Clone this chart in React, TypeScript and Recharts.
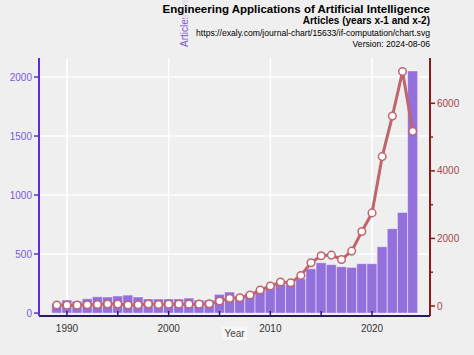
import { ComposedChart, Bar, Line, XAxis, YAxis, CartesianGrid } from 'recharts';

const YEARS = [
  1989, 1990, 1991, 1992, 1993, 1994, 1995, 1996, 1997, 1998, 1999, 2000,
  2001, 2002, 2003, 2004, 2005, 2006, 2007, 2008, 2009, 2010, 2011, 2012,
  2013, 2014, 2015, 2016, 2017, 2018, 2019, 2020, 2021, 2022, 2023, 2024,
];

// articles published (left axis, bars)
const ARTICLES = [
  80, 110, 100, 121, 138, 136, 144, 152, 136, 119, 119, 119,
  119, 127, 110, 110, 158, 178, 144, 165, 195, 223, 243, 243,
  290, 375, 426, 410, 392, 387, 418, 418, 562, 715, 853, 2051,
];

// articles in years x-1 and x-2 (right axis, line)
const CITATIONS = [
  30, 25, 25, 35, 45, 60, 60, 30, 35, 60, 45, 55,
  55, 55, 55, 65, 148, 226, 246, 325, 472, 590, 709, 689,
  905, 1280, 1486, 1506, 1378, 1625, 2206, 2756, 4422, 5622, 6942, 5170,
];

const X_TICKS = [1990, 1995, 2000, 2005, 2010, 2015, 2020];
const X_LABELS = [1990, 2000, 2010, 2020];
const LEFT_TICKS = [0, 500, 1000, 1500, 2000];
const RIGHT_TICKS = [0, 1000, 2000, 3000, 4000, 5000, 6000];
const RIGHT_LABELS = [0, 2000, 4000, 6000];

const FONT = '"Liberation Sans", Arial, sans-serif';
const BG = '#efefef';
const BAR = '#9370db';
const LINE = '#c0646e';
const LEFT_COLOR = '#5b2fd6';
const LEFT_TEXT = '#7b5ad6';
const RIGHT_COLOR = '#8b1a1a';
const RIGHT_TEXT = '#a8444c';

const chartData = YEARS.map((year, i) => ({
  year,
  articles: ARTICLES[i],
  citations: CITATIONS[i],
}));

function YearTick({ x, y, payload }: any) {
  const labelled = X_LABELS.includes(payload.value);
  return (
    <g>
      <line x1={x} x2={x} y1={y} y2={y - 5} stroke="#2a1a60" strokeWidth={1.5} />
      {labelled && (
        <text x={x} y={y + 16} textAnchor="middle" fill="#333" fontSize={10} fontFamily={FONT}>
          {payload.value}
        </text>
      )}
    </g>
  );
}

function RightTick({ x, y, payload }: any) {
  const labelled = RIGHT_LABELS.includes(payload.value);
  return (
    <g>
      <line x1={x} x2={x + (labelled ? 5 : 3)} y1={y} y2={y} stroke={RIGHT_COLOR} strokeWidth={1.5} />
      {labelled && (
        <text x={x + 7} y={y} dy="0.35em" fill={RIGHT_TEXT} fontSize={10} fontFamily={FONT}>
          {payload.value}
        </text>
      )}
    </g>
  );
}

function YearLabel({ viewBox }: any) {
  const cx = viewBox.x + viewBox.width / 2;
  const by = viewBox.y + 21;
  return (
    <g>
      <rect x={cx - 13} y={by - 11} width={26} height={14} fill="#f6f6f6" />
      <text x={cx} y={by} textAnchor="middle" fill="#444" fontSize={10} fontFamily={FONT}>
        Year
      </text>
    </g>
  );
}

export default function App() {
  return (
    <div style={{ position: 'absolute', left: 0, top: 0, width: 474, height: 355, background: BG, fontFamily: FONT }}>
      <ComposedChart
        width={474}
        height={355}
        data={chartData}
        margin={{ top: 58, right: 0, bottom: 0, left: 0 }}
        barCategoryGap={0}
      >
        <CartesianGrid
          yAxisId="left"
          stroke="#ffffff"
          strokeWidth={1.5}
          verticalValues={X_LABELS}
          horizontalValues={LEFT_TICKS.slice(1)}
        />
        <XAxis
          dataKey="year"
          type="number"
          domain={[1987.25, 2025.7]}
          allowDataOverflow
          ticks={X_TICKS}
          interval={0}
          height={39}
          tickSize={0}
          tickMargin={0}
          tick={<YearTick />}
          axisLine={{ stroke: '#2a1a60', strokeWidth: 2 }}
          label={<YearLabel />}
        />
        <YAxis
          yAxisId="left"
          orientation="left"
          width={39}
          domain={[-25, 2161]}
          allowDataOverflow
          ticks={LEFT_TICKS}
          interval={0}
          tickSize={5}
          tickMargin={2}
          tick={{ fill: LEFT_TEXT, fontSize: 10, fontFamily: FONT }}
          tickLine={{ stroke: LEFT_COLOR, strokeWidth: 1.5 }}
          axisLine={{ stroke: LEFT_COLOR, strokeWidth: 2 }}
        />
        <YAxis
          yAxisId="right"
          orientation="right"
          width={44}
          domain={[-296, 7341]}
          allowDataOverflow
          ticks={RIGHT_TICKS}
          interval={0}
          tickSize={0}
          tickMargin={0}
          tick={<RightTick />}
          tickLine={false}
          axisLine={{ stroke: RIGHT_COLOR, strokeWidth: 2 }}
        />
        <Bar
          yAxisId="left"
          dataKey="articles"
          fill={BAR}
          stroke="rgba(255,255,255,0.4)"
          strokeWidth={1}
          isAnimationActive={false}
        />
        <Line
          yAxisId="right"
          dataKey="citations"
          stroke={LINE}
          strokeWidth={3}
          dot={{ r: 3.8, fill: '#ffffff', stroke: LINE, strokeWidth: 1.5 }}
          isAnimationActive={false}
        />
      </ComposedChart>
      <svg
        width={474}
        height={60}
        style={{ position: 'absolute', left: 0, top: 0, pointerEvents: 'none' }}
      >
        <text
          x={188}
          y={47}
          transform="rotate(-90, 188, 47)"
          fill={LEFT_TEXT}
          fontSize={10}
          fontFamily={FONT}
        >
          Articles (years x-1 and x-2)
        </text>
        <rect x={158} y={0} width={276} height={18} fill={BG} opacity={0.8} />
        <text x={430} y={13} textAnchor="end" fontSize={11.5} fontWeight="bold" fill="#000" fontFamily={FONT}>
          Engineering Applications of Artificial Intelligence
        </text>
        <text x={430} y={24} textAnchor="end" fontSize={10} fontWeight="bold" fill="#000" fontFamily={FONT}>
          Articles (years x-1 and x-2)
        </text>
        <text x={430} y={36} textAnchor="end" fontSize={8.6} fill="#000" fontFamily={FONT}>
          https://exaly.com/journal-chart/15633/if-computation/chart.svg
        </text>
        <text x={430} y={47} textAnchor="end" fontSize={8.6} fill="#000" fontFamily={FONT}>
          Version: 2024-08-06
        </text>
      </svg>
    </div>
  );
}
